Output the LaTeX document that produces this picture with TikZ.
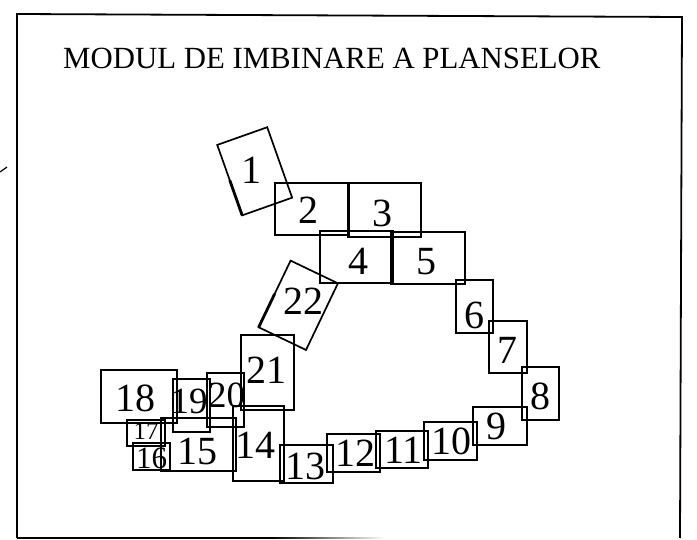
\documentclass[tikz,border=0pt]{standalone}
\usepackage{fontspec}
\setmainfont{Liberation Serif}
\usetikzlibrary{calc}
\tikzset{
  sheet/.style={draw, line width=1.7pt, inner sep=0pt, outer sep=0pt},
  seam/.style={line width=2.8pt},
  num/.style={font=\fontsize{40}{40}\selectfont, inner sep=0pt},
  pairnum/.style={font=\fontsize{37}{37}\selectfont, inner sep=0pt},
  smallnum/.style={font=\fontsize{31}{31}\selectfont, inner sep=0pt},
  tinynum/.style={font=\fontsize{25}{25}\selectfont, inner sep=0pt},
  frameline/.style={line width=1.8pt},
}
\newcommand\plansa[5]{%
  \node[sheet, minimum width={#4-#2}, minimum height={#5-#3}] (#1) at ({(#2+#4)/2},{(#3+#5)/2}) {};
  \draw[seam] (#1.south west) -- ($(#1.south west)!0.5!(#1.north west)$);
}
\begin{document}
\begin{tikzpicture}[x=1pt, y=-1pt]
\useasboundingbox (0,0) rectangle (697,540);
% frame
\draw[frameline] (17,538) -- (17,14) -- (682,17) -- (680,538);
\draw[frameline] (17,538) -- (272,538);
\shade[left color=black, right color=white] (272,537.1) rectangle (385,538.9);
\draw[line width=1.2pt] (0,172) -- (7,167);
% title
\node[font=\fontsize{30.8}{30.8}\selectfont, anchor=base west, inner sep=0pt] (title) at (63,68.5) {MODUL DE IMBINARE A PLANSELOR};
% rotated sheets
\node[sheet, rotate=19.5, minimum width=53, minimum height=74.7] (b1) at (254.7,171.3) {};
\draw[seam] (b1.south west) -- ($(b1.south west)!0.5!(b1.north west)$);
\node[sheet, rotate=-25.6, minimum width=52.5, minimum height=73.9] (b22) at (298.3,305.3) {};
\draw[seam] (b22.south west) -- ($(b22.south west)!0.5!(b22.north west)$);
% straight sheets
\plansa{b2}{275}{183}{349}{235}
\plansa{b3}{348}{183}{421}{237}
\plansa{b4}{320}{231}{393}{283}
\plansa{b5}{391}{232}{465}{284}
\plansa{b6}{456}{280}{493}{333}
\plansa{b7}{489}{321}{527}{373}
\plansa{b8}{522}{367}{559}{420}
\plansa{b9}{473}{407}{527}{445}
\plansa{b10}{424}{422}{477}{460}
\plansa{b11}{376}{431}{428}{468}
\plansa{b12}{327}{434}{380}{472}
\plansa{b13}{280}{445}{333}{483}
\plansa{b14}{233}{406}{284}{481}
\plansa{b15}{161}{418}{236}{471}
\plansa{b16}{133}{443}{170}{470}
\plansa{b17}{127}{420}{165}{446}
\plansa{b18}{101}{370}{177}{423}
\plansa{b19}{173}{379}{210}{432}
\plansa{b20}{207}{373}{244}{427}
\plansa{b21}{241}{335}{294}{410}
% labels
\node[num] (n1) at (251.7,170) {1};
\node[num] (n2) at (308,210) {2};
\node[num] (n3) at (382.7,213) {3};
\node[num] (n4) at (358,261.7) {4};
\node[num] (n5) at (426.7,262) {5};
\node[num] (n6) at (474,315) {6};
\node[num] (n7) at (507.3,350) {7};
\node[num] (n8) at (540,396.7) {8};
\node[num] (n9) at (496.7,426.7) {9};
\node[num] (n10) at (451.7,441.7) {10};
\node[num] (n11) at (403.3,450) {11};
\node[num] (n12) at (355,453.3) {12};
\node[num] (n13) at (305,466.7) {13};
\node[num] (n14) at (255,445) {14};
\node[num] (n15) at (197.3,451.7) {15};
\node[smallnum] (n16) at (151.5,458.5) {16};
\node[tinynum] (n17) at (146,431.5) {17};
\node[num] (n18) at (135,398.3) {18};
\node[pairnum] (n19) at (189,401) {19};
\node[pairnum] (n20) at (226.5,395) {20};
\node[num] (n21) at (266.7,370) {21};
\node[num] (n22) at (303.3,301.7) {22};
\end{tikzpicture}
\end{document}
